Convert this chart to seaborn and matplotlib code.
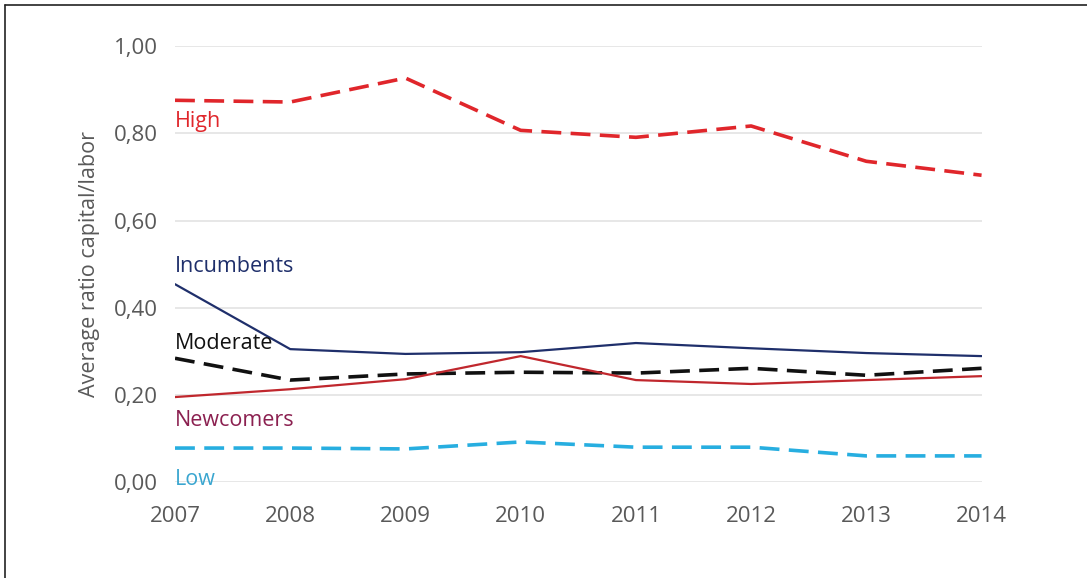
import numpy as np
import pandas as pd
import seaborn as sns
import matplotlib
matplotlib.use('Agg')
import matplotlib.pyplot as plt
import matplotlib.ticker as mtick
from matplotlib.lines import Line2D

years = [2007, 2008, 2009, 2010, 2011, 2012, 2013, 2014]
high = [0.876, 0.872, 0.927, 0.807, 0.791, 0.817, 0.736, 0.704]
incumbents = [0.454, 0.305, 0.294, 0.298, 0.319, 0.307, 0.296, 0.289]
moderate = [0.284, 0.234, 0.248, 0.252, 0.250, 0.261, 0.245, 0.261]
newcomers = [0.195, 0.213, 0.236, 0.289, 0.234, 0.225, 0.234, 0.243]
low = [0.078, 0.078, 0.076, 0.092, 0.080, 0.080, 0.060, 0.060]

series = {'High': high, 'Incumbents': incumbents, 'Moderate': moderate,
          'Newcomers': newcomers, 'Low': low}
df = pd.concat([pd.DataFrame({'Year': years, 'Ratio': v, 'Group': k})
                for k, v in series.items()], ignore_index=True)

palette = {'High': '#e0262b', 'Incumbents': '#1f2f6b', 'Moderate': '#111111',
           'Newcomers': '#c0272d', 'Low': '#27aee0'}
dashes = {'High': (5.5, 2.6), 'Incumbents': '', 'Moderate': (5.5, 2.6),
          'Newcomers': '', 'Low': (5.5, 2.6)}
widths = {'High': 2.6, 'Incumbents': 1.6, 'Moderate': 2.6, 'Newcomers': 1.6, 'Low': 2.6}

sns.set_style('white')
plt.rcParams['font.family'] = ['Open Sans', 'DejaVu Sans']

fig = plt.figure(figsize=(10.87, 5.78), dpi=100)
ax = fig.add_axes([0.161, 0.166, 0.742, 0.754])

sns.lineplot(data=df, x='Year', y='Ratio', hue='Group', style='Group',
             palette=palette, dashes=dashes, legend=False, ax=ax)
for line, g in zip(ax.get_lines(), series.keys()):
    line.set_linewidth(widths[g])

ax.set_xlim(2007, 2014)
ax.set_ylim(0, 1.0)
ax.set_yticks(np.arange(0, 1.01, 0.2))
ax.yaxis.set_major_formatter(mtick.FuncFormatter(lambda v, p: f'{v:.2f}'.replace('.', ',')))
ax.set_xticks(years)
ax.grid(axis='y', color='#e3e3e3', lw=1.2)
ax.set_axisbelow(True)
for s in ax.spines.values():
    s.set_visible(False)
ax.tick_params(axis='both', length=0, labelsize=16, labelcolor='#595959')
ax.tick_params(axis='y', pad=12)
ax.tick_params(axis='x', pad=17)
ax.set_xlabel('')
ax.set_ylabel('Average ratio capital/labor', fontsize=15.5, color='#595959', labelpad=10)

labels = [('High', 0.828, '#e0262b'), ('Incumbents', 0.495, '#1f2f6b'),
          ('Moderate', 0.319, '#111111'), ('Newcomers', 0.142, '#8b2050'),
          ('Low', 0.005, '#3aa6d0')]
for txt, yv, c in labels:
    ax.text(2007.0, yv, txt, color=c, fontsize=15.5, ha='left', va='center')

fig.add_artist(Line2D([0.005, 0.005], [0, 0.992], color='#222222', lw=1.2))
fig.add_artist(Line2D([0.005, 1.0], [0.992, 0.992], color='#222222', lw=1.2))

fig.savefig('out.png', dpi=100)
